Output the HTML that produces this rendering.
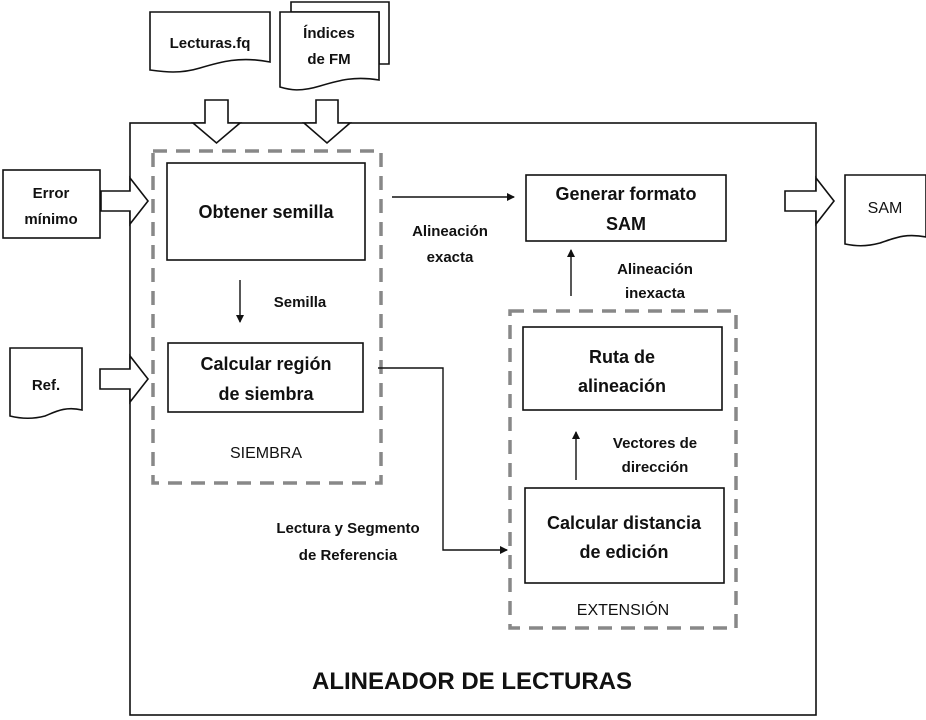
<!DOCTYPE html>
<html><head><meta charset="utf-8"><style>
html,body{margin:0;padding:0;background:#fff;}
svg{display:block;}
text{font-family:"Liberation Sans",sans-serif;fill:#111;}
.b{font-weight:bold;}
</style></head><body>
<svg width="926" height="720" viewBox="0 0 926 720" xmlns="http://www.w3.org/2000/svg">
<defs><marker id="ah" markerWidth="8" markerHeight="8" refX="7" refY="4" orient="auto" markerUnits="userSpaceOnUse"><path d="M0,0 L8,4 L0,8 z" fill="#111"/></marker></defs>
<g fill="#fff" stroke="#111" stroke-width="1.6">
<!-- main box -->
<rect x="130" y="123" width="686" height="592"/>
<!-- docs -->
<path d="M150,12 H270 V62 C240,56 220,62 200,68 C180,74 165,72 150,70 Z"/>
<path d="M291,2 H389 V64 H379 V12 H291 Z"/>
<path d="M280,12 H379 V80 C355,76 340,80 320,86 C300,92 290,90 280,87 Z"/>
<path d="M10,348 H82 V410 C65,406 55,412 45,416 C30,420 18,418 10,416 Z"/>
<path d="M845,175 H926 V237 C905,233 895,238 880,243 C865,247 855,246 845,244 Z"/>
<!-- boxes -->
<rect x="3" y="170" width="97" height="68"/>
<rect x="167" y="163" width="198" height="97"/>
<rect x="168" y="343" width="195" height="69"/>
<rect x="526" y="175" width="200" height="66"/>
<rect x="523" y="327" width="199" height="83"/>
<rect x="525" y="488" width="199" height="95"/>
<!-- block arrows -->
<path d="M205,100 H228 V123 H240 L216.5,143 L193,123 H205 Z"/>
<path d="M316,100 H338 V123 H350 L327,143 L304,123 H316 Z"/>
<path d="M101,191 H130 V178 L148,201 L130,224 V211 H101 Z"/>
<path d="M100,369 H130 V356 L148,379 L130,402 V389 H100 Z"/>
<path d="M785,191 H816 V178 L834,201 L816,224 V211 H785 Z"/>
</g>
<g fill="none" stroke="#888" stroke-width="3.5" stroke-dasharray="14,9">
<rect x="153" y="151" width="228" height="332"/>
<rect x="510" y="311" width="226" height="317"/>
</g>
<g fill="none" stroke="#111" stroke-width="1.4">
<line x1="392" y1="197" x2="514" y2="197" marker-end="url(#ah)"/>
<line x1="240" y1="280" x2="240" y2="322" marker-end="url(#ah)"/>
<line x1="571" y1="296" x2="571" y2="250" marker-end="url(#ah)"/>
<line x1="576" y1="480" x2="576" y2="432" marker-end="url(#ah)"/>
<polyline points="378,368 443,368 443,550 507,550" marker-end="url(#ah)"/>
</g>
<g class="b" font-size="15" text-anchor="middle">
<text x="210" y="48">Lecturas.fq</text>
<text x="329" y="38">Índices</text>
<text x="329" y="64">de FM</text>
<text x="51" y="198">Error</text>
<text x="51" y="224">mínimo</text>
<text x="46" y="390">Ref.</text>
<text x="450" y="236">Alineación</text>
<text x="450" y="262">exacta</text>
<text x="300" y="307">Semilla</text>
<text x="655" y="274">Alineación</text>
<text x="655" y="298">inexacta</text>
<text x="655" y="448">Vectores de</text>
<text x="655" y="472">dirección</text>
<text x="348" y="533">Lectura y Segmento</text>
<text x="348" y="560">de Referencia</text>
</g>
<g class="b" font-size="18" text-anchor="middle">
<text x="266" y="218">Obtener semilla</text>
<text x="266" y="370">Calcular región</text>
<text x="266" y="400">de siembra</text>
<text x="626" y="200">Generar formato</text>
<text x="626" y="230">SAM</text>
<text x="622" y="363">Ruta de</text>
<text x="622" y="392">alineación</text>
<text x="624" y="529">Calcular distancia</text>
<text x="624" y="558">de edición</text>
</g>
<g font-size="16" text-anchor="middle">
<text x="266" y="458">SIEMBRA</text>
<text x="623" y="615">EXTENSIÓN</text>
<text x="885" y="213">SAM</text>
</g>
<text x="472" y="689" class="b" font-size="24" text-anchor="middle">ALINEADOR DE LECTURAS</text>
</svg>
</body></html>
